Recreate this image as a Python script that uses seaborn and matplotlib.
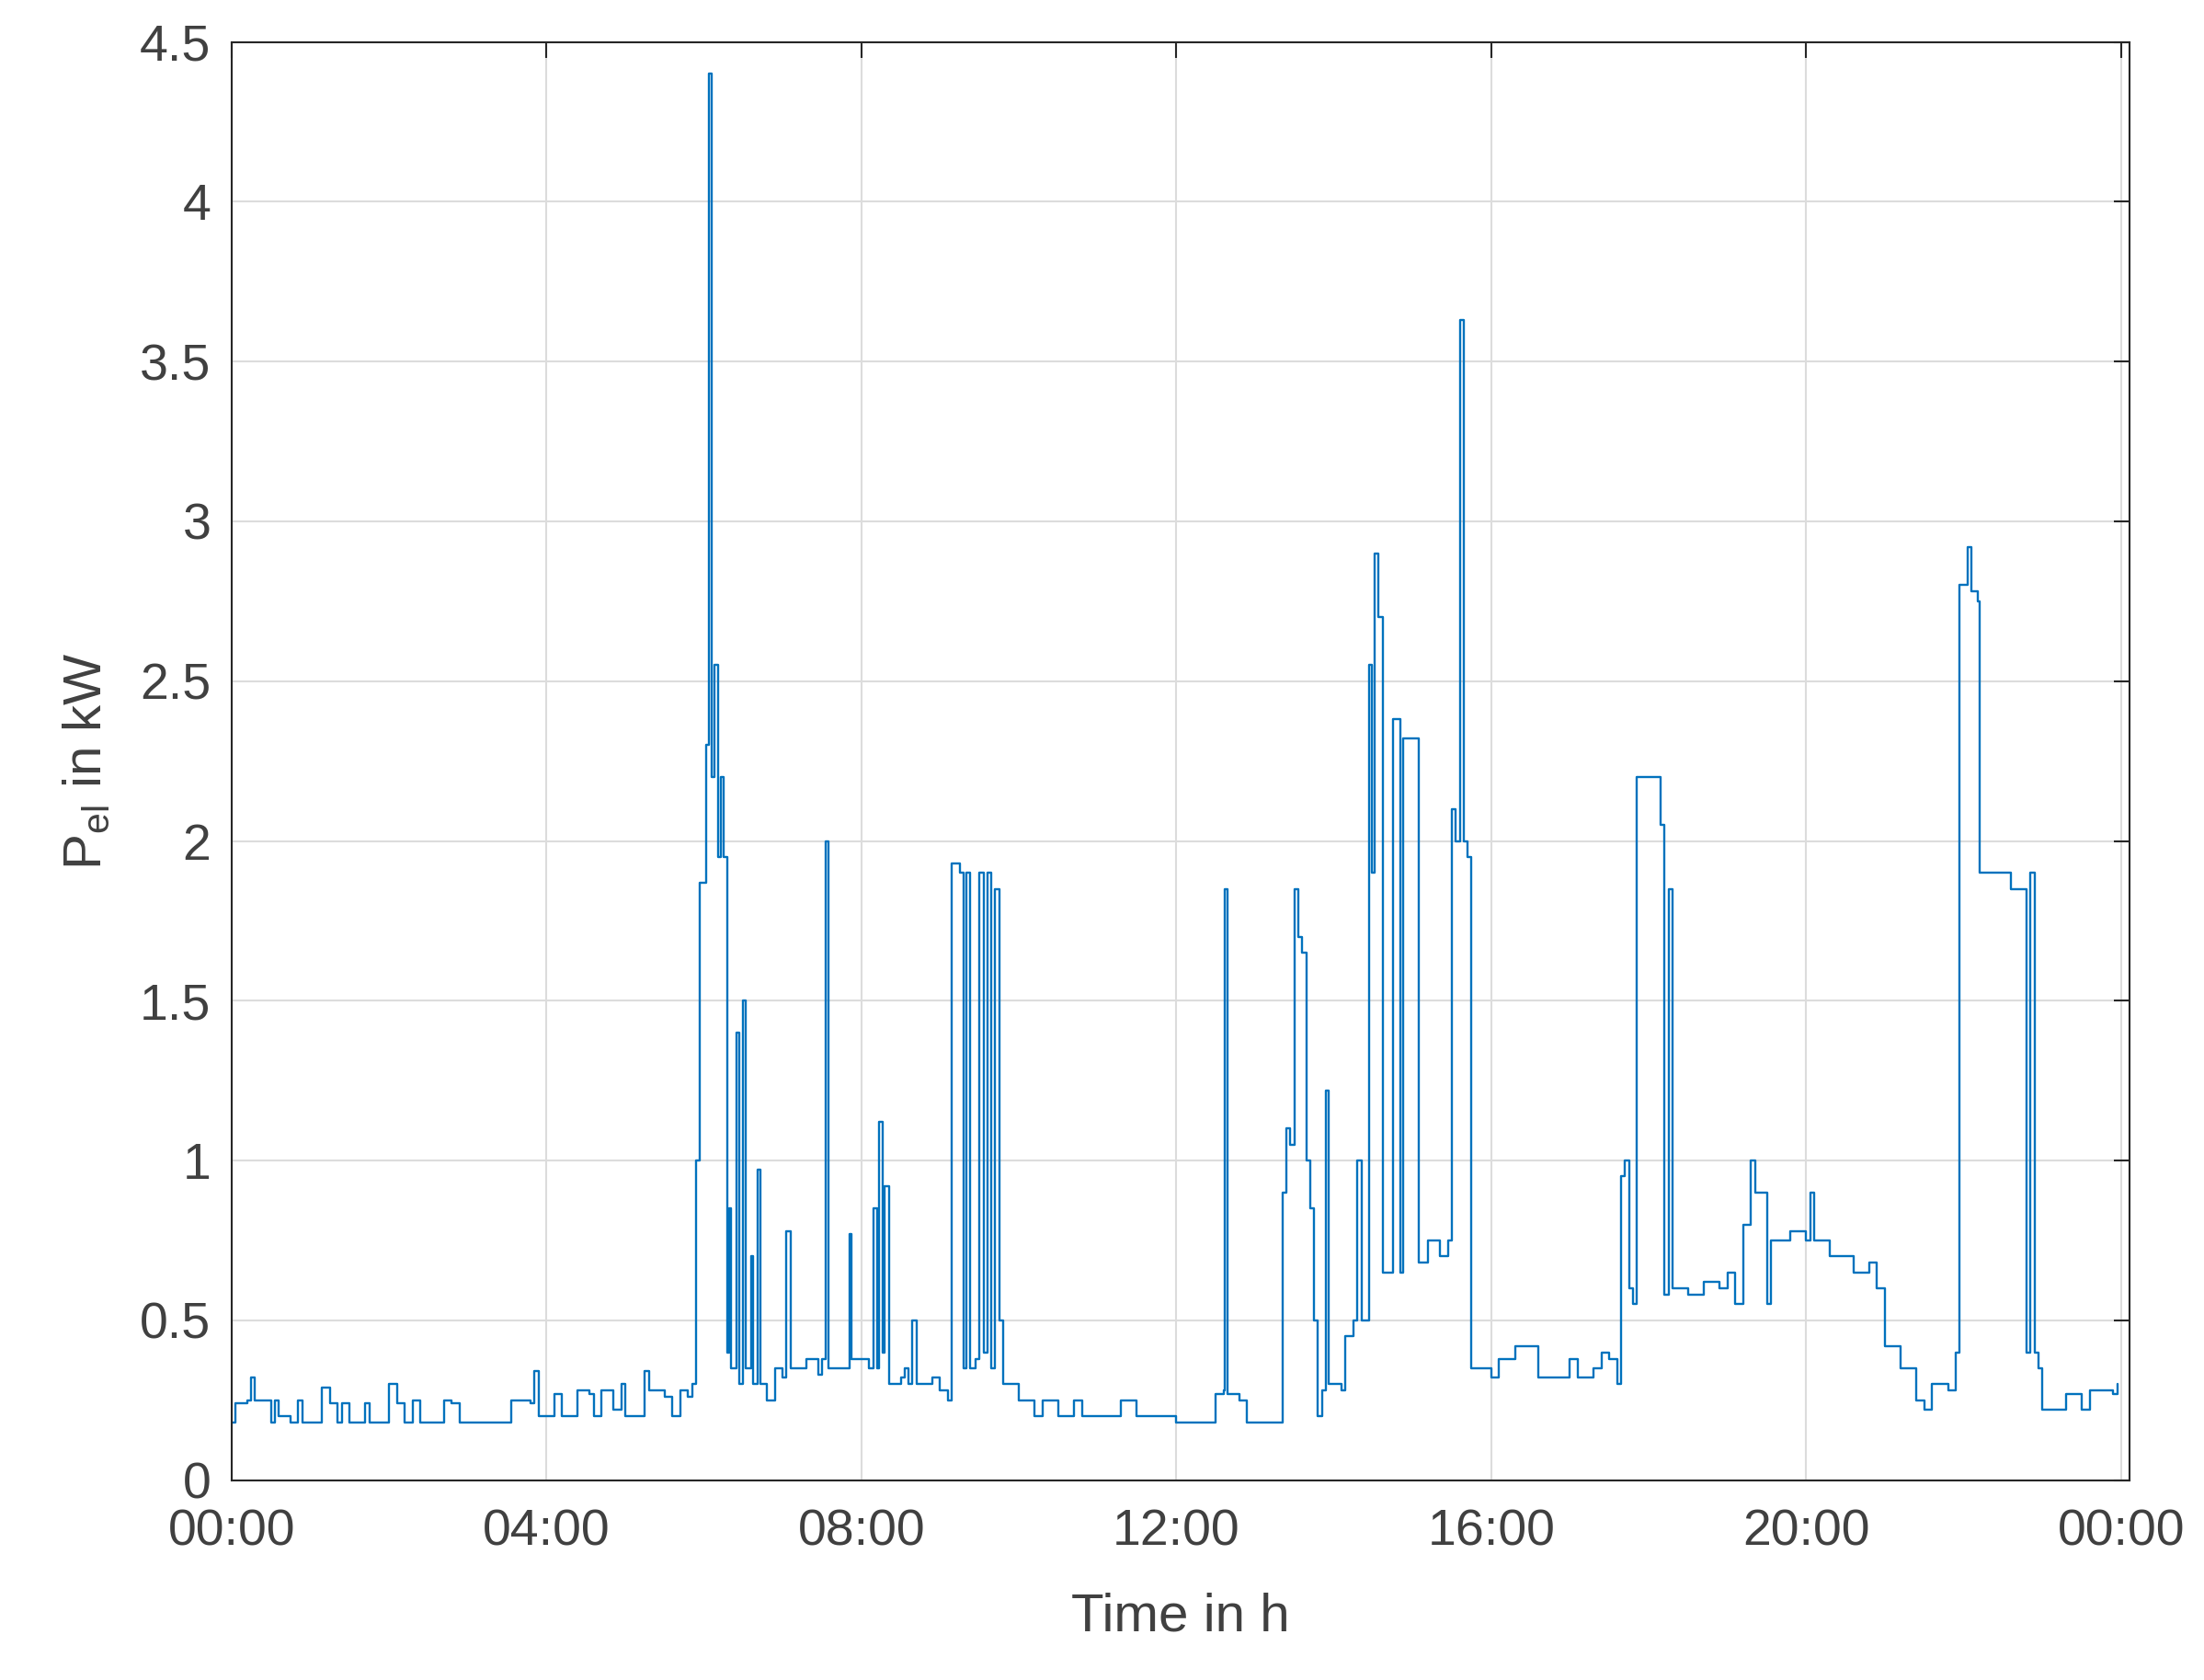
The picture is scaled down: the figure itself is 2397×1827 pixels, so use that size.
import matplotlib
matplotlib.use("Agg")
import matplotlib.pyplot as plt
import seaborn as sns
import pandas as pd

hours = [0,0.05,0.2,0.25,0.3,0.5,0.55,0.6,0.75,0.85,0.9,1.1,1.15,1.25,1.35,1.4,1.5,1.7,1.75,1.9,2.0,2.1,2.2,2.3,2.4,2.6,2.7,2.8,2.9,3.2,3.5,3.55,3.8,3.85,3.9,4.05,4.1,4.2,4.3,4.4,4.55,4.6,4.7,4.85,4.95,5.0,5.2,5.25,5.3,5.5,5.6,5.7,5.8,5.85,5.9,5.95,6.0,6.03,6.06,6.1,6.13,6.18,6.22,6.25,6.3,6.32,6.35,6.42,6.45,6.5,6.53,6.6,6.63,6.68,6.72,6.8,6.9,7.0,7.05,7.1,7.3,7.45,7.5,7.55,7.58,7.8,7.85,7.88,8.1,8.15,8.2,8.23,8.27,8.3,8.35,8.5,8.55,8.6,8.65,8.7,8.9,9.0,9.1,9.15,9.25,9.3,9.33,9.38,9.45,9.5,9.55,9.6,9.65,9.7,9.75,9.8,9.95,10.0,10.2,10.3,10.5,10.7,10.8,11.1,11.3,11.5,11.9,12.0,12.4,12.5,12.6,12.62,12.65,12.8,12.9,13.3,13.35,13.4,13.45,13.5,13.55,13.6,13.65,13.7,13.75,13.8,13.85,13.9,13.93,14.1,14.15,14.25,14.3,14.35,14.4,14.45,14.48,14.52,14.57,14.62,14.72,14.75,14.82,14.85,14.88,15.05,15.08,15.2,15.35,15.45,15.5,15.55,15.6,15.65,15.7,15.75,15.9,16.0,16.1,16.3,16.5,16.6,16.8,17.0,17.1,17.3,17.4,17.5,17.6,17.65,17.7,17.75,17.8,17.85,18.05,18.15,18.2,18.25,18.3,18.5,18.7,18.9,19.0,19.1,19.2,19.3,19.35,19.5,19.55,19.7,19.8,20.0,20.05,20.1,20.3,20.5,20.6,20.8,20.9,21.0,21.2,21.4,21.5,21.6,21.8,21.9,21.95,22.05,22.1,22.18,22.2,22.5,22.6,22.75,22.8,22.85,22.9,22.95,23.0,23.2,23.3,23.5,23.6,23.8,23.9,23.95]
power = [0.18,0.24,0.25,0.32,0.25,0.18,0.25,0.2,0.18,0.25,0.18,0.18,0.29,0.24,0.18,0.24,0.18,0.24,0.18,0.18,0.3,0.24,0.18,0.25,0.18,0.18,0.25,0.24,0.18,0.18,0.18,0.25,0.24,0.34,0.2,0.2,0.27,0.2,0.2,0.28,0.27,0.2,0.28,0.22,0.3,0.2,0.2,0.34,0.28,0.26,0.2,0.28,0.26,0.3,1.0,1.87,1.87,2.3,4.4,2.2,2.55,1.95,2.2,1.95,0.4,0.85,0.35,1.4,0.3,1.5,0.35,0.7,0.3,0.97,0.3,0.25,0.35,0.32,0.78,0.35,0.38,0.33,0.38,2.0,0.35,0.35,0.77,0.38,0.35,0.85,0.35,1.12,0.4,0.92,0.3,0.32,0.35,0.3,0.5,0.3,0.32,0.28,0.25,1.93,1.9,0.35,1.9,0.35,0.38,1.9,0.4,1.9,0.35,1.85,0.5,0.3,0.3,0.25,0.2,0.25,0.2,0.25,0.2,0.2,0.25,0.2,0.2,0.18,0.18,0.27,0.28,1.85,0.27,0.25,0.18,0.18,0.9,1.1,1.05,1.85,1.7,1.65,1.0,0.85,0.5,0.2,0.28,1.22,0.3,0.28,0.45,0.5,1.0,0.5,0.5,2.55,1.9,2.9,2.7,0.65,0.65,2.38,2.38,0.65,2.32,2.32,0.68,0.75,0.7,0.75,2.1,2.0,3.63,2.0,1.95,0.35,0.35,0.32,0.38,0.42,0.42,0.32,0.32,0.38,0.32,0.35,0.4,0.38,0.3,0.95,1.0,0.6,0.55,2.2,2.2,2.05,0.58,1.85,0.6,0.58,0.62,0.6,0.65,0.55,0.8,1.0,0.9,0.55,0.75,0.75,0.78,0.75,0.9,0.75,0.7,0.7,0.65,0.68,0.6,0.42,0.35,0.25,0.22,0.3,0.28,0.4,2.8,2.92,2.78,2.75,1.9,1.9,1.85,1.85,0.4,1.9,0.4,0.35,0.22,0.22,0.27,0.22,0.28,0.28,0.27,0.3]
tick_hours = [0,4,8,12,16,20,24]
tick_labels = ["00:00","04:00","08:00","12:00","16:00","20:00","00:00"]

sns.set_style("white")
plt.rcParams['font.family'] = ['Liberation Sans', 'DejaVu Sans']
df = pd.DataFrame({"h": hours, "p": power})
fig = plt.figure(figsize=(23.97, 18.27), dpi=100)
ax = fig.add_axes([0.105, 0.119, 0.861, 0.856])
sns.lineplot(data=df, x="h", y="p", ax=ax, color="#0072BD", linewidth=1.7,
             estimator=None, drawstyle="steps-post")
ax.set_xlim(0, 24.1)
ax.set_ylim(0, 4.5)
ax.set_xticks(tick_hours)
ax.set_xticklabels(tick_labels)
ax.set_yticks([0,0.5,1,1.5,2,2.5,3,3.5,4,4.5])
ax.set_yticklabels(["0","0.5","1","1.5","2","2.5","3","3.5","4","4.5"])
ax.grid(True, color="#dcdcdc", linewidth=1.5)
ax.tick_params(direction="in", length=12, width=1.5, colors="#262626", labelcolor="#404040",
               labelsize=40, top=True, right=True)
ax.tick_params(axis="x", pad=22)
ax.tick_params(axis="y", pad=16)
for s in ax.spines.values():
    s.set_color("#262626"); s.set_linewidth(1.5)
ax.set_xlabel("Time in h", fontsize=42, color="#404040", labelpad=28)
ax.set_ylabel("P$_{\\mathregular{el}}$ in kW", fontsize=42, color="#404040", labelpad=22)
fig.savefig("out.png", dpi=100)
